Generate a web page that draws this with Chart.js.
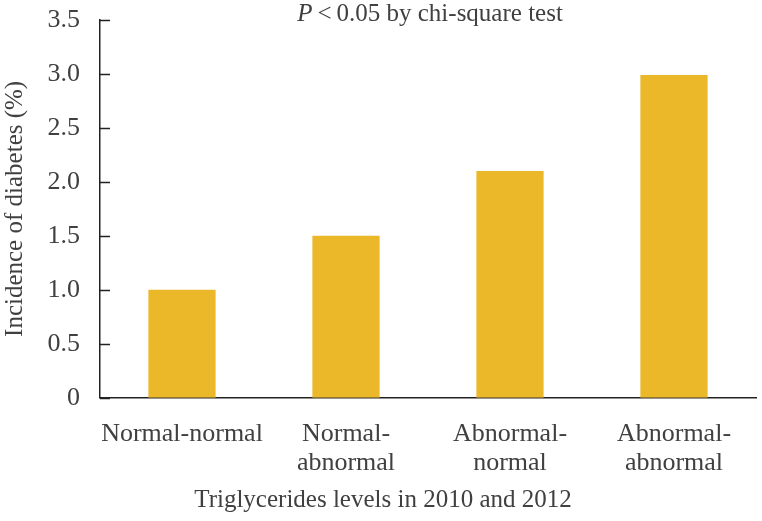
<!DOCTYPE html>
<html>
<head>
<meta charset="utf-8">
<script src="https://cdn.jsdelivr.net/npm/chart.js@4"></script>
<style>
  html, body { margin: 0; padding: 0; background: #fff; }
  #wrap { width: 762px; height: 521px; }
</style>
</head>
<body>
<div id="wrap"><canvas id="grafico" width="762" height="521"></canvas></div>
<script>
// dados
const categorias = [
  ["Normal-normal"],
  ["Normal-", "abnormal"],
  ["Abnormal-", "normal"],
  ["Abnormal-", "abnormal"]
];
const incidencia = [1.0, 1.5, 2.1, 2.99];
const ticksY = [0, 0.5, 1.0, 1.5, 2.0, 2.5, 3.0, 3.5];

const FONTE = "'Liberation Serif', 'Times New Roman', serif";
const COR_TEXTO = "#404040";

// marcas internas do eixo y + textos soltos
const extras = {
  id: "extras",
  afterDraw(chart) {
    const { ctx, scales, chartArea } = chart;
    const y = scales.y;
    ctx.save();
    ctx.strokeStyle = "#222";
    ctx.lineWidth = 1.5;
    ticksY.forEach(v => {
      const py = Math.round(y.getPixelForValue(v)) + 0.5;
      ctx.beginPath();
      ctx.moveTo(chartArea.left, py);
      ctx.lineTo(chartArea.left + 10, py);
      ctx.stroke();
    });

    ctx.fillStyle = COR_TEXTO;
    ctx.textBaseline = "middle";
    // titulo de cima
    const p = "P";
    const resto = "\u2009<\u20090.05 by chi-square test";
    ctx.font = "italic 25px " + FONTE;
    const wP = ctx.measureText(p).width;
    ctx.font = "25px " + FONTE;
    const wR = ctx.measureText(resto).width;
    const x0 = 430 - (wP + wR) / 2;
    ctx.textAlign = "left";
    ctx.font = "italic 25px " + FONTE;
    ctx.fillText(p, x0, 14);
    ctx.font = "25px " + FONTE;
    ctx.fillText(resto, x0 + wP, 14);

    // titulo do eixo x
    ctx.textAlign = "center";
    ctx.font = "25px " + FONTE;
    ctx.fillText("Triglycerides levels in 2010 and 2012", 383, 500);
    ctx.restore();
  }
};

new Chart(document.getElementById("grafico"), {
  type: "bar",
  data: {
    labels: categorias,
    datasets: [{
      data: incidencia,
      backgroundColor: "#EBB829",
      borderWidth: 0,
      barPercentage: 0.41,
      categoryPercentage: 1.0
    }]
  },
  options: {
    responsive: false,
    animation: false,
    layout: { padding: { top: 20, right: 6, left: 0, bottom: 21 } },
    plugins: {
      legend: { display: false },
      tooltip: { enabled: false }
    },
    scales: {
      x: {
        grid: { display: false, drawTicks: false },
        border: { display: true, color: "#222", width: 1.5 },
        ticks: {
          color: COR_TEXTO,
          font: { family: FONTE, size: 26, lineHeight: 1.12 },
          padding: 22,
          maxRotation: 0,
          autoSkip: false
        }
      },
      y: {
        min: 0,
        max: 3.5,
        afterFit(scale) {
          scale.width = 100;
          scale.paddingTop = 0;
          scale.paddingBottom = 0;
        },
        afterBuildTicks(scale) { scale.ticks = ticksY.map(v => ({ value: v })); },
        grid: { display: false, drawTicks: false },
        border: { display: true, color: "#222", width: 1.5 },
        ticks: {
          color: COR_TEXTO,
          font: { family: FONTE, size: 26 },
          padding: 20,
          callback: v => v === 0 ? "0" : v.toFixed(1)
        },
        title: {
          display: true,
          text: "Incidence of diabetes (%)",
          color: COR_TEXTO,
          font: { family: FONTE, size: 25 },
          padding: 0
        }
      }
    }
  },
  plugins: [extras]
});
</script>
</body>
</html>
